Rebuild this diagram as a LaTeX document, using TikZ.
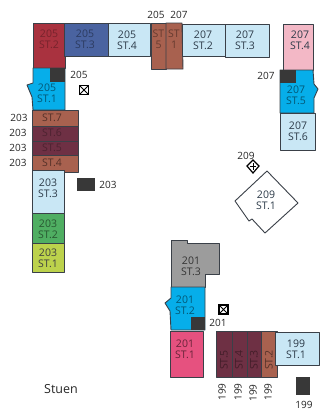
\documentclass[tikz,border=0pt]{standalone}
\usepackage{fontspec}
\setmainfont{Open Sans}
\definecolor{edge}{HTML}{3A4048}
\definecolor{lblue}{HTML}{C9E7F5}
\definecolor{cyanb}{HTML}{06AEEA}
\definecolor{brick}{HTML}{A8614F}
\definecolor{plum}{HTML}{6E3044}
\definecolor{crim}{HTML}{A9323F}
\definecolor{navy}{HTML}{4A63A0}
\definecolor{gren}{HTML}{4FAE62}
\definecolor{lime}{HTML}{BCD24C}
\definecolor{pinkb}{HTML}{F3B8C6}
\definecolor{rose}{HTML}{E6517F}
\definecolor{greyb}{HTML}{9C9C9C}
\definecolor{ink}{HTML}{2C3A48}
\tikzset{
 room/.style={draw=edge,line width=0.9pt,line join=round},
 lab/.style={font=\fontsize{10.5}{11}\selectfont,text=ink,align=center,inner sep=0pt},
 tag/.style={font=\fontsize{10}{11}\selectfont,text=black!85,inner sep=0pt},
 core/.style={fill=black!78,draw=none},
 lift/.style={draw=black,fill=white,line width=1.3pt}
}
\begin{document}
\begin{tikzpicture}[x=1pt,y=-1pt]
\useasboundingbox (0,0) rectangle (320,410);
% 205 wing
\draw[room,fill=crim] (33,23) rectangle (65,68);
\draw[room,fill=navy] (64,23) rectangle (108,56);
\draw[room,fill=lblue] (108,23) rectangle (150,56);
\draw[room,fill=cyanb] (33,68) -- (65,68) -- (65,110) -- (33,110) -- (32,97) -- (27,85) -- (33,83) -- cycle;
\fill[core] (50,68) rectangle (65,82);
\node[lab,text=crim!70!black] (a1) at (49,39) {205\\ST.2};
\node[lab,text=navy!60!black] (a2) at (85,39) {205\\ST.3};
\node[lab] (a3) at (127,40) {205\\ST.4};
\node[lab,text=cyanb!50!black] (a4) at (47,93) {205\\ST.1};
\node[tag] (a5) at (79,75) {205};
\draw[lift] (79.5,85.5) rectangle (88.5,94.5);
\draw[line width=0.8pt] (79.5,85.5) -- (88.5,94.5) (79.5,94.5) -- (88.5,85.5);
% 205/207 strip
\draw[room,fill=brick] (151,23) rectangle (166,69);
\draw[room,fill=brick] (166,23) -- (182,23) -- (183,69) -- (166,69) -- cycle;
\node[lab,text=brick!60!black] (b1) at (158.5,39) {ST\\5};
\node[lab,text=brick!60!black] (b2) at (174,39) {ST\\1};
\node[tag] (b3) at (156,15) {205};
\node[tag] (b4) at (179,15) {207};
\draw[room,fill=lblue] (182,24) rectangle (225,56);
\draw[room,fill=lblue] (225,24) rectangle (269,57);
\node[lab] (b5) at (203,40) {207\\ST.2};
\node[lab] (b6) at (245,40) {207\\ST.3};
% 207 right wing
\draw[room,fill=pinkb] (283,24) rectangle (313,70);
\draw[room,fill=cyanb] (280,70) -- (313,70) -- (314,84) -- (318,89) -- (314,98) -- (314,113) -- (280,113) -- cycle;
\draw[room,fill=lblue] (280,113) -- (315,113) -- (315,150) -- (280,150) -- cycle;
\fill[core] (280,70) rectangle (296,83);
\node[lab] (c1) at (300,40) {207\\ST.4};
\node[lab,text=cyanb!50!black] (c2) at (296,95) {207\\ST.5};
\node[lab] (c3) at (298,131) {207\\ST.6};
\node[tag] (c4) at (266,76) {207};
% 203 column
\draw[room,fill=brick] (32,110) rectangle (78,126);
\draw[room,fill=plum] (32,126) rectangle (78,141);
\draw[room,fill=plum] (32,141) rectangle (78,155);
\draw[room,fill=brick] (32,155) rectangle (78,172);
\node[lab,text=brick!50!black] (d7) at (52,118) {ST.7};
\node[lab,text=plum!70!black] (d6) at (52,133) {ST.6};
\node[lab,text=plum!70!black] (d5) at (52,148) {ST.5};
\node[lab,text=brick!50!black] (d4) at (52,163) {ST.4};
\draw[room,fill=lblue] (32,170) rectangle (64,213);
\draw[room,fill=gren] (32,213) rectangle (64,243);
\draw[room,fill=lime] (32,243) rectangle (64,272);
\node[lab] (d3) at (48,188) {203\\ST.3};
\node[lab,text=gren!50!black] (d2) at (48,229) {203\\ST.2};
\node[lab,text=black!75] (d1) at (48,258) {203\\ST.1};
\node[tag] (l7) at (19,118) {203};
\node[tag] (l6) at (18,133) {203};
\node[tag] (l5) at (18,148) {203};
\node[tag] (l4) at (18,163) {203};
\node[core,minimum width=18pt,minimum height=13pt,inner sep=0pt] (d8) at (86,184.5) {};
\node[tag] (d9) at (108,185) {203};
% 209
\draw[room,fill=white] (267,171) -- (298,203) -- (265,233) -- (252,219) -- (249,221) -- (235,201) -- cycle;
\node[lab] (e1) at (266,200) {209\\ST.1};
\node[tag] (e2) at (246,156) {209};
\draw[lift,line width=1.2pt] (253,160) -- (259,166) -- (253,173) -- (247,166) -- cycle;
\draw[line width=0.8pt] (250,166) -- (256,166) (253,163) -- (253,170);
% 201
\draw[room,fill=greyb] (171,240) -- (187,240) -- (187,243) -- (219,243) -- (219,274) -- (205,274) -- (205,287) -- (171,287) -- cycle;
\draw[room,fill=cyanb] (171,287) -- (205,287) -- (205,330) -- (171,330) -- (170,311) -- (165,303) -- (171,298) -- cycle;
\draw[room,fill=rose] (170,331) rectangle (203,377);
\fill[core] (191,317) rectangle (205,330);
\node[lab,text=black!80] (f3) at (191,266) {201\\ST.3};
\node[lab,text=cyanb!50!black] (f2) at (185,305) {201\\ST.2};
\node[lab,text=rose!45!black] (f1) at (185,349) {201\\ST.1};
\node[tag] (f4) at (218,323) {201};
\draw[lift] (219,305) rectangle (228,314);
\draw[line width=0.8pt] (219,305) -- (228,314) (219,314) -- (228,305);
% 199 strips
\draw[room,fill=plum] (216,331) rectangle (232,377);
\draw[room,fill=plum] (232,331) rectangle (247,377);
\draw[room,fill=plum] (247,331) rectangle (261,377);
\draw[room,fill=brick] (261,331) rectangle (277,377);
\node[lab,rotate=90,text=plum!60!black] (g1) at (224,360) {ST.5};
\node[lab,rotate=90,text=plum!60!black] (g2) at (239,360) {ST.4};
\node[lab,rotate=90,text=plum!60!black] (g3) at (254,360) {ST.3};
\node[lab,rotate=90,text=brick!50!black] (g4) at (269,360) {ST.2};
\node[tag,rotate=90] (h1) at (222,392) {199};
\node[tag,rotate=90] (h2) at (238,392) {199};
\node[tag,rotate=90] (h3) at (253,393) {199};
\node[tag,rotate=90] (h4) at (268,392) {199};
\draw[room,fill=lblue] (275,332) rectangle (319,365);
\node[lab] (h5) at (296,349) {199\\ST.1};
\node[core,minimum width=14pt,minimum height=18pt,inner sep=0pt] (h6) at (303,386) {};
\node[tag] (h7) at (304,405) {199};
\node[font=\fontsize{12.5}{13}\selectfont,text=black!85,inner sep=0pt] (s) at (61,389) {Stuen};
\end{tikzpicture}
\end{document}
